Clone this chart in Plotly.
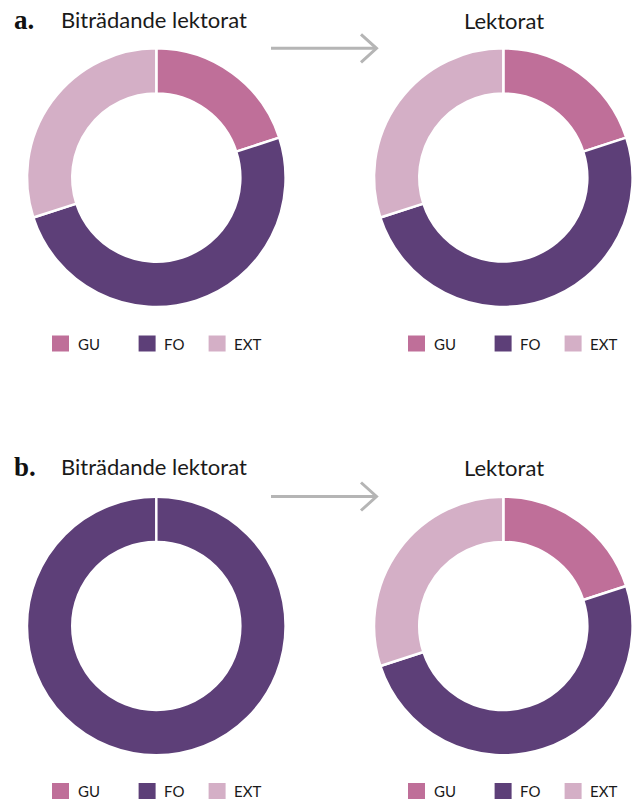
import plotly.graph_objects as go

W, H = 633, 801

# data
categories = ["GU", "FO", "EXT"]
colors = ["#bf6f99", "#5d3f78", "#d4afc6"]
a_before = [20, 50, 30]
a_after = [20, 50, 30]
b_before = [0, 100, 0]
b_after = [20, 50, 30]
panel_letters = ["a.", "b."]
title_before = "Biträdande lektorat"
title_after = "Lektorat"


def px(x):
    return x / W


def py(y):
    return 1 - y / H


fig = go.Figure()

# donut boxes in pixels: (left, top, size)
boxes = [
    (a_before, 27.0, 48.3),
    (a_after, 374.0, 48.3),
    (b_before, 27.0, 496.7),
    (b_after, 374.0, 496.7),
]
SIZE = 258.6

for vals, left, top in boxes:
    fig.add_trace(go.Pie(
        labels=categories,
        values=vals,
        marker=dict(colors=colors, line=dict(color="white", width=2.5)),
        hole=0.65,
        sort=False,
        direction="clockwise",
        rotation=0,
        textinfo="none",
        hoverinfo="label+percent",
        showlegend=False,
        domain=dict(x=[px(left), px(left + SIZE)], y=[py(top + SIZE), py(top)]),
    ))

annotations = []
shapes = []
TITLE_FONT = "Lato, 'Open Sans', sans-serif"

for row, dy in enumerate([0, 447]):
    # panel letter
    annotations.append(dict(
        x=px(12), y=py(20 + dy), xref="paper", yref="paper",
        xanchor="left", yanchor="middle", showarrow=False,
        text="<b>%s</b>" % panel_letters[row],
        font=dict(family="'Liberation Serif', serif", size=27, color="#111"),
    ))
    annotations.append(dict(
        x=px(154), y=py(19.5 + dy), xref="paper", yref="paper",
        xanchor="center", yanchor="middle", showarrow=False,
        text=title_before,
        font=dict(family=TITLE_FONT, size=22, color="#1a1a1a"),
    ))
    annotations.append(dict(
        x=px(503.5), y=py(20.5 + dy), xref="paper", yref="paper",
        xanchor="center", yanchor="middle", showarrow=False,
        text=title_after,
        font=dict(family=TITLE_FONT, size=22, color="#1a1a1a"),
    ))

# arrows
for ay in [48.3, 496.5]:
    shapes.append(dict(type="line", xref="paper", yref="paper",
                       x0=px(271), x1=px(376), y0=py(ay), y1=py(ay),
                       line=dict(color="#b5b5b5", width=3)))
    shapes.append(dict(type="path", xref="paper", yref="paper",
                       path="M %f %f L %f %f L %f %f" % (
                           px(361), py(ay - 14), px(376.5), py(ay), px(361), py(ay + 14)),
                       line=dict(color="#b5b5b5", width=3)))

# legends below each donut
legend_rows = [343.5, 791]
legend_starts = [52, 408]
item_offsets = [0, 86.6, 156.6]
for ly in legend_rows:
    for lx in legend_starts:
        for cat, col, off in zip(categories, colors, item_offsets):
            x0 = lx + off
            shapes.append(dict(type="rect", xref="paper", yref="paper",
                               x0=px(x0), x1=px(x0 + 17), y0=py(ly - 8), y1=py(ly + 8),
                               fillcolor=col, line=dict(width=0)))
            annotations.append(dict(
                x=px(x0 + 23.5), y=py(ly), xref="paper", yref="paper",
                xanchor="left", yanchor="middle", showarrow=False,
                text=cat, font=dict(family=TITLE_FONT, size=15, color="#1a1a1a"),
            ))

fig.update_layout(
    width=W, height=H,
    margin=dict(l=0, r=0, t=0, b=0),
    paper_bgcolor="white",
    plot_bgcolor="white",
    annotations=annotations,
    shapes=shapes,
)

# drop the default page margin so the figure fills the window
fig.write_html(
    "out.html",
    config={"displayModeBar": False},
    post_script="document.body.style.margin='0';document.body.style.overflow='hidden';",
)
